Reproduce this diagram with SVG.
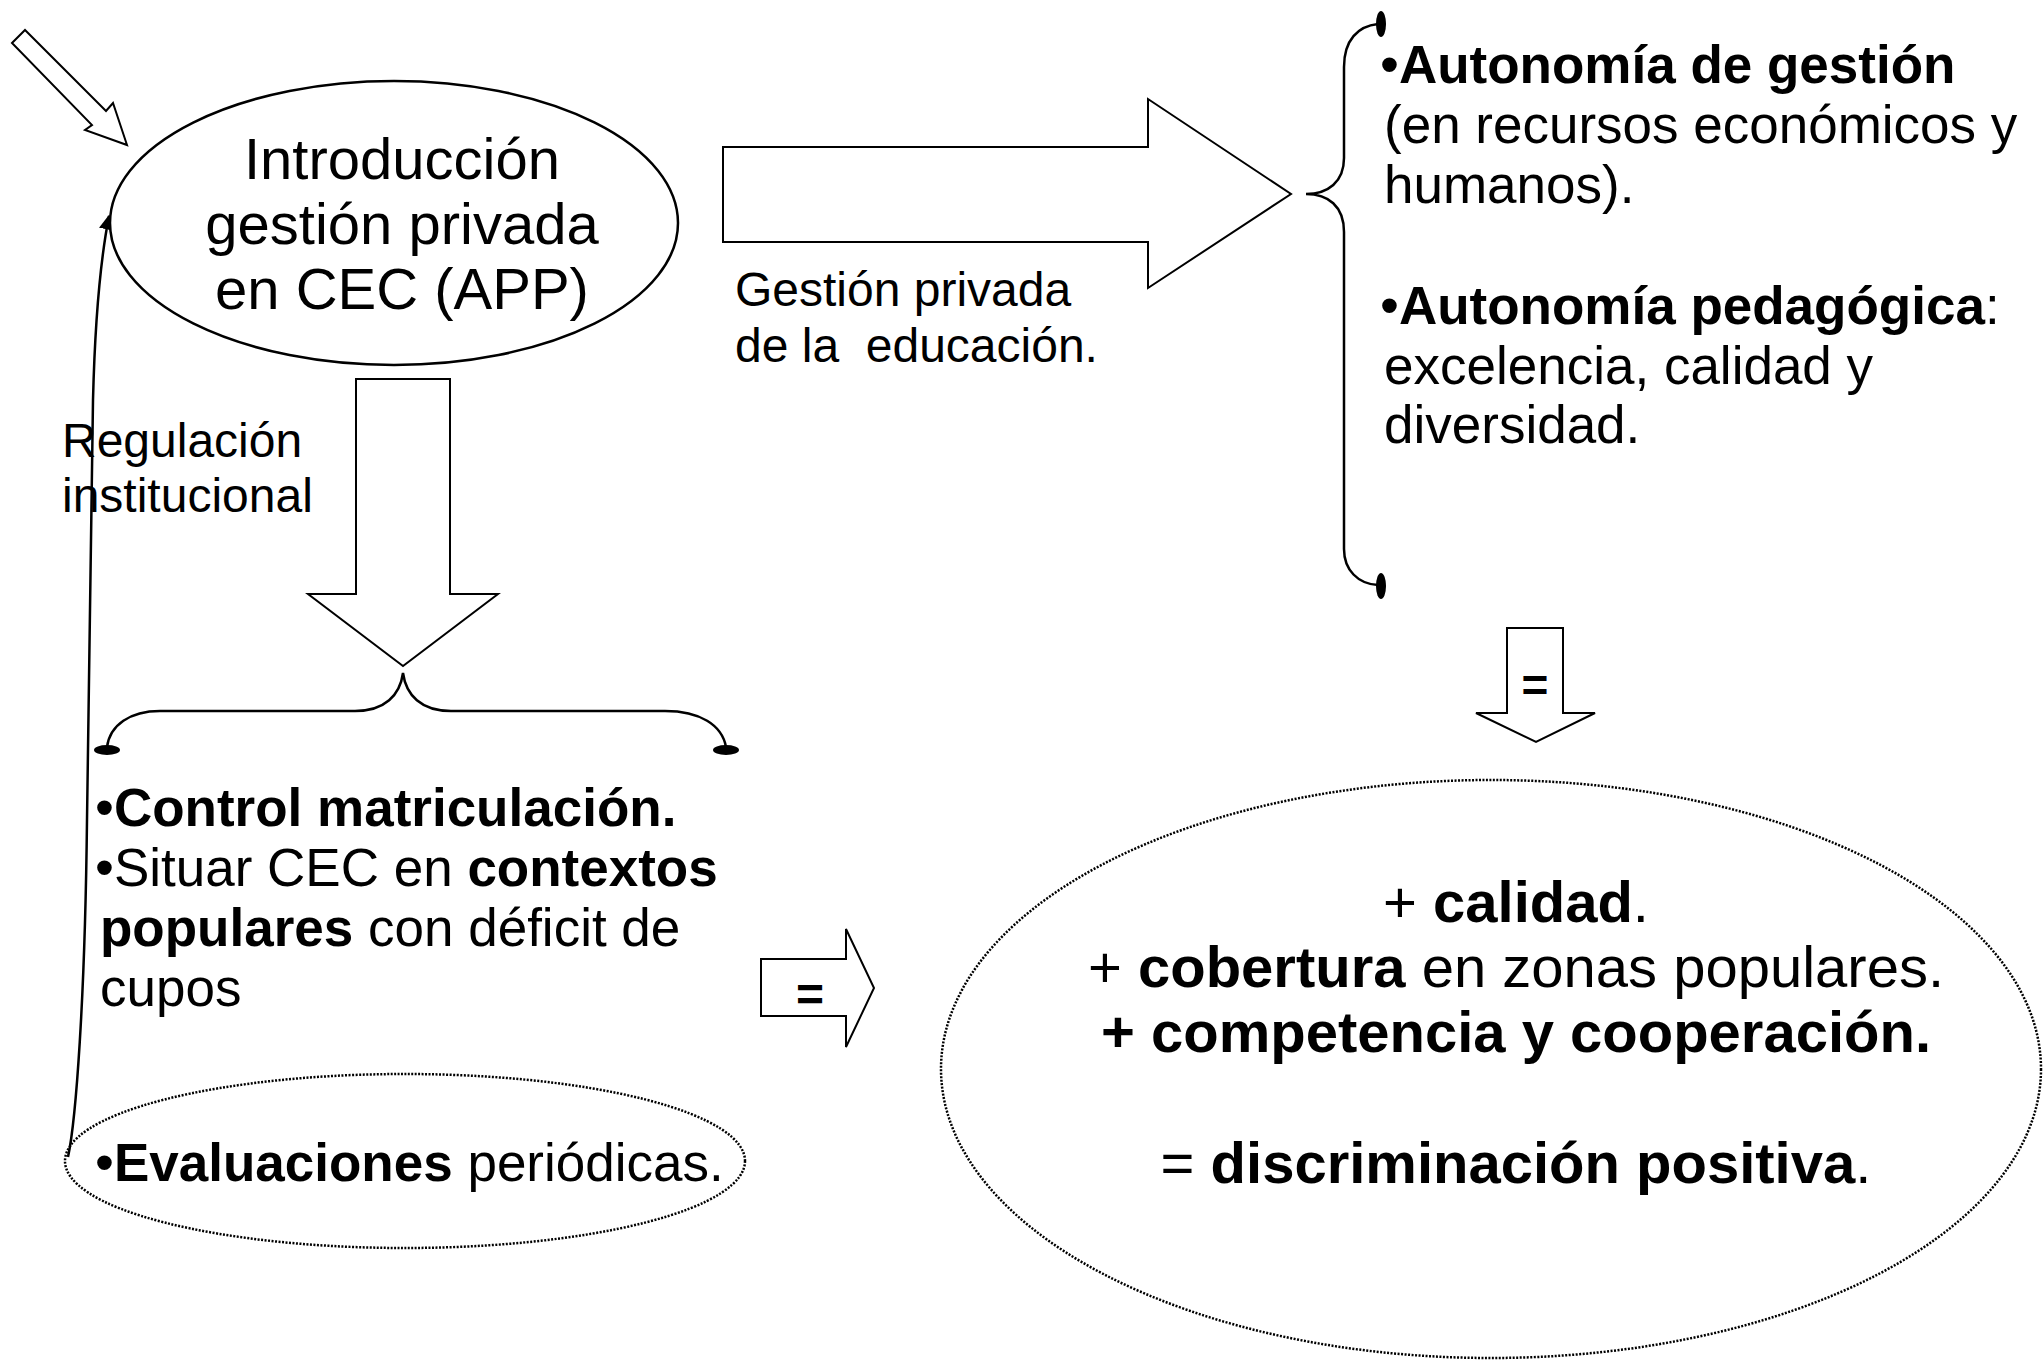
<svg xmlns="http://www.w3.org/2000/svg" width="2044" height="1360" viewBox="0 0 2044 1360">
<defs>
<style>
text{font-family:"Liberation Sans",Arial,sans-serif;fill:#000}
.b{font-weight:bold}
.bul{font-size:54px;font-weight:normal}
.eq{font-weight:bold}
.shape{fill:#fff;stroke:#000;stroke-width:2.5}
.blk{fill:#fff;stroke:#000;stroke-width:2;stroke-linejoin:miter}
.dot{fill:none;stroke:#000;stroke-width:2.5;stroke-dasharray:2 1.5}
.brace{fill:none;stroke:#000;stroke-width:2.5}
.line{fill:none;stroke:#000;stroke-width:2.5}
</style>
<marker id="ah" viewBox="0 0 10 10" refX="9" refY="5" markerWidth="6" markerHeight="6" markerUnits="strokeWidth" orient="auto">
<path d="M0,0 L10,5 L0,10 z" fill="#000"/>
</marker>
</defs>
<rect width="2044" height="1360" fill="#fff"/>

<g id="connectors">
<polygon class="blk" points="12,43 25,30 106,111 113,103 127,145 85,130 92,125"/>
<polygon class="blk" points="723,147 1148,147 1148,99 1291,194 1148,288 1148,242 723,242"/>
<polygon class="blk" points="356,379 450,379 450,594 498,594 403,666 308,594 356,594"/>
<polygon class="blk" points="761,959 846,959 846,929 874,988 846,1047 846,1016 761,1016"/>
<polygon class="blk" points="1507,628 1563,628 1563,713 1595,713 1536,742 1476,713 1507,713"/>
<path class="line" d="M68,1157 C76,1120 85,1000 87,820 L93,400 C95,320 100,262 109,216" marker-end="url(#ah)"/>
</g>

<g id="node-introduccion">
<ellipse class="shape" cx="394" cy="223" rx="284" ry="142"/>
<text x="402" y="179" font-size="58" text-anchor="middle">Introducción</text>
<text x="402" y="244" font-size="58" text-anchor="middle">gestión privada</text>
<text x="402" y="309" font-size="58" text-anchor="middle">en CEC (APP)</text>
</g>

<g id="label-gestion">
<text x="735" y="306" font-size="48">Gestión privada</text>
<text x="735" y="362" font-size="48" xml:space="preserve">de la  educación.</text>
</g>

<g id="label-regulacion">
<text x="62" y="457" font-size="48">Regulación</text>
<text x="62" y="512" font-size="48">institucional</text>
</g>

<g id="node-autonomia">
<path class="brace" d="M1378,24 C1358,26 1344,40 1344,67 L1344,158 C1344,182 1328,194 1306,194 C1328,194 1344,206 1344,232 L1344,549 C1344,570 1358,584 1378,585"/>
<ellipse cx="1381" cy="24" rx="5" ry="13" fill="#000"/>
<ellipse cx="1381" cy="586" rx="5" ry="13" fill="#000"/>
<text x="1380" y="83" font-size="53"><tspan class="bul">•</tspan><tspan class="b">Autonomía de gestión</tspan></text>
<text x="1384" y="143" font-size="53">(en recursos económicos y</text>
<text x="1384" y="203" font-size="53">humanos).</text>
<text x="1380" y="324" font-size="53"><tspan class="bul">•</tspan><tspan class="b">Autonomía pedagógica</tspan>:</text>
<text x="1384" y="384" font-size="53">excelencia, calidad y</text>
<text x="1384" y="443" font-size="53">diversidad.</text>
</g>

<g id="node-control">
<path class="brace" d="M107,747 C110,725 130,711 160,711 L355,711 C385,711 400,695 403,673 C406,695 421,711 451,711 L665,711 C700,711 722,725 726,747"/>
<ellipse cx="107" cy="750" rx="13" ry="5" fill="#000"/>
<ellipse cx="726" cy="750" rx="13" ry="5" fill="#000"/>
<text x="95" y="826" font-size="53"><tspan class="bul">•</tspan><tspan class="b">Control matriculación.</tspan></text>
<text x="95" y="886" font-size="53"><tspan class="bul">•</tspan>Situar CEC en <tspan class="b">contextos</tspan></text>
<text x="100" y="946" font-size="53"><tspan class="b">populares</tspan> con déficit de</text>
<text x="100" y="1006" font-size="53">cupos</text>
</g>

<g id="node-evaluaciones">
<ellipse class="dot" cx="405" cy="1161" rx="340" ry="87"/>
<text x="95" y="1181" font-size="53"><tspan class="bul">•</tspan><tspan class="b">Evaluaciones</tspan> periódicas.</text>
</g>

<g id="eq-right">
<text class="eq" x="810" y="1011" font-size="48" text-anchor="middle">=</text>
</g>
<g id="eq-down">
<text class="eq" x="1535" y="701" font-size="46" text-anchor="middle">=</text>
</g>

<g id="node-resultado">
<ellipse class="dot" cx="1491" cy="1069" rx="550" ry="289"/>
<text x="1516" y="922" font-size="58" text-anchor="middle">+ <tspan class="b">calidad</tspan>.</text>
<text x="1516" y="987" font-size="58" text-anchor="middle">+ <tspan class="b">cobertura</tspan> en zonas populares.</text>
<text x="1516" y="1052" font-size="58" text-anchor="middle" class="b">+ competencia y cooperación.</text>
<text x="1516" y="1183" font-size="58" text-anchor="middle">= <tspan class="b">discriminación positiva</tspan>.</text>
</g>
</svg>
